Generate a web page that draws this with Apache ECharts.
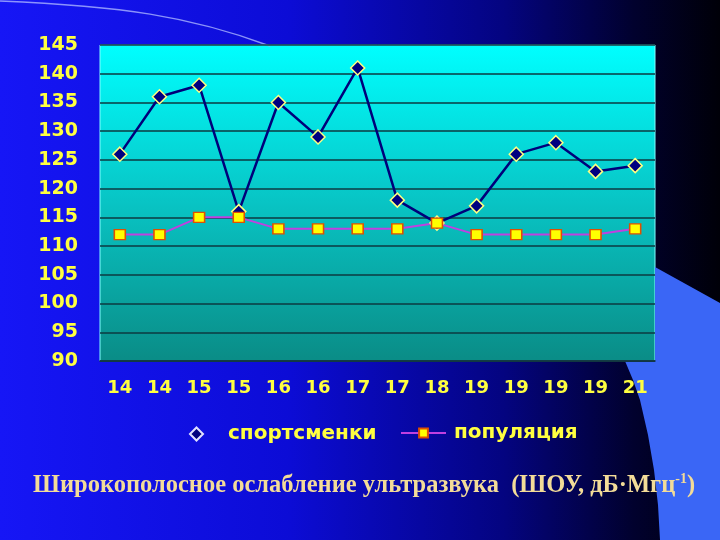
<!DOCTYPE html>
<html><head><meta charset="utf-8">
<script src="https://cdn.jsdelivr.net/npm/echarts@6/dist/echarts.min.js"></script>
<style>html,body{margin:0;padding:0;}#c{width:720px;height:540px;}</style>
</head><body><div id="c"></div>
<script>
var categories = ['14','14','15','15','16','16','17','17','18','19','19','19','19','21'];
var sportsmen = [126,136,138,116,135,129,141,118,114,117,126,128,123,124];
var population = [112,112,115,115,113,113,113,113,114,112,112,112,112,113];
var seriesNames = ['спортсменки','популяция'];
var yMin = 90, yMax = 145, yStep = 5;

var chart = echarts.init(document.getElementById('c'));
var yellow = '#ffff40';
var font = 'DejaVu Sans';
chart.setOption({
  backgroundColor: {type:'linear',x:0,y:0,x2:1,y2:0,colorStops:[
    {offset:0,color:'#1616f6'},{offset:0.4,color:'#0c0cd6'},{offset:0.7,color:'#040480'},{offset:0.88,color:'#01012e'},{offset:1,color:'#000008'}]},
  animation:false,
  graphic:[
    {type:'bezierCurve',z:0,silent:true,shape:{x1:0,y1:1,x2:270,y2:46,cpx1:120,cpy1:6,cpx2:190,cpy2:16},
     style:{stroke:'rgba(170,180,255,0.8)',lineWidth:1.5,fill:null}},
    {type:'polygon',z:0,silent:true,shape:{points:[[655,267],[720,303],[720,540],[660,540],[658,505],[654,470],[648,435],[640,400],[633,380],[625,361],[655,361]]},
     style:{fill:'#3a66f6'}},
    {type:'text',left:33,top:472,style:{
      text:'{a|Широкополосное ослабление ультразвука  (ШОУ, дБ·Мгц}{s|-1}{a|)}',
      rich:{a:{fontFamily:'Liberation Serif',fontWeight:'bold',fontSize:24.5,fill:'#f3dc98',verticalAlign:'bottom'},
            s:{fontFamily:'Liberation Serif',fontWeight:'bold',fontSize:14,fill:'#f3dc98',verticalAlign:'top',padding:[0,0,12,0]}}}}
  ],
  grid:{left:100,right:65,top:45,bottom:179,show:true,borderWidth:1,borderColor:'#80ffff',
    backgroundColor:{type:'linear',x:0,y:0,x2:0,y2:1,colorStops:[{offset:0,color:'#00ffff'},{offset:0.5,color:'#08c4c4'},{offset:1,color:'#0a8c86'}]}},
  legend:[
    {data:[{name:seriesNames[0],icon:'diamond',itemStyle:{color:'#000080',borderColor:'#e0e0ff',borderWidth:2},lineStyle:{opacity:0}}],
     left:184,top:419,itemWidth:13,itemHeight:13,
     textStyle:{color:yellow,fontFamily:font,fontWeight:'bold',fontSize:20,padding:[0,0,0,20]}},
    {data:[{name:seriesNames[1]}],
     left:395,top:418,itemWidth:45,itemHeight:11,
     textStyle:{color:yellow,fontFamily:font,fontWeight:'bold',fontSize:20,padding:[0,0,0,3]}}
  ],
  xAxis:{type:'category',data:categories,boundaryGap:true,
    axisLine:{lineStyle:{color:'#10303a',width:1.5}},axisTick:{show:false},
    axisLabel:{color:yellow,fontFamily:font,fontWeight:'bold',fontSize:18,margin:18,interval:0}},
  yAxis:{type:'value',min:yMin,max:yMax,interval:yStep,
    axisLine:{show:false},axisTick:{show:false},
    splitLine:{lineStyle:{color:'#0d3a40',width:1.6}},
    axisLabel:{color:yellow,fontFamily:font,fontWeight:'bold',fontSize:19,margin:22}},
  series:[
    {name:seriesNames[0],type:'line',data:sportsmen,symbol:'diamond',symbolSize:14,
     lineStyle:{color:'#00007a',width:2.5},
     itemStyle:{color:'#000080',borderColor:'#ffff80',borderWidth:1.5}},
    {name:seriesNames[1],type:'line',data:population,symbol:'rect',symbolSize:[11,10],
     lineStyle:{color:'#c040e0',width:2},
     itemStyle:{color:'#ffff00',borderColor:'#e05000',borderWidth:1.5}}
  ]
});
</script></body></html>
